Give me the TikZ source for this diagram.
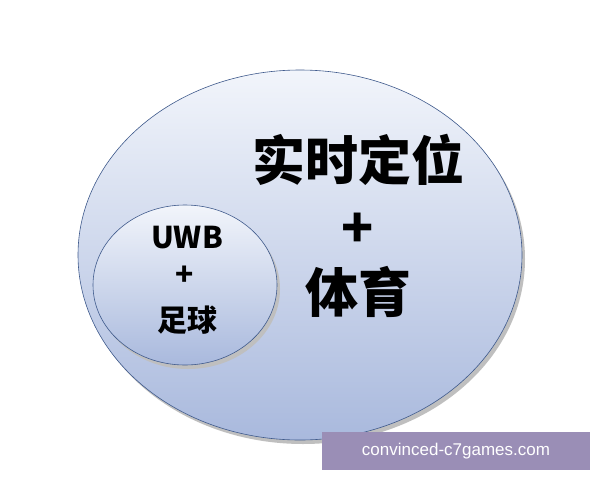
\documentclass[tikz,border=0pt]{standalone}
\usepackage{fontspec}
\newfontfamily\cjk{Noto Sans CJK SC}
\newfontfamily\wmfont{Liberation Sans}
\usetikzlibrary{shadows}
\definecolor{rimblue}{HTML}{3F5A8C}
\definecolor{topblue}{HTML}{F2F5FB}
\definecolor{botblue}{HTML}{A9B9DD}
\definecolor{wmpurple}{HTML}{9A8EB6}
\tikzset{
  zone/.style={draw=rimblue, line width=0.6pt, top color=topblue, bottom color=botblue},
  bigtext/.style={font=\cjk\fontsize{53}{58}\selectfont\bfseries},
  smalltext/.style={font=\cjk\fontsize{30}{34}\selectfont\bfseries}
}
\begin{document}
\begin{tikzpicture}[x=1pt,y=-1pt]
    \useasboundingbox (0,0) rectangle (600,480);
    \fill[white] (0,0) rectangle (600,480);
    % outer zone
    \fill[black!25] (303,259) ellipse[x radius=222, y radius=185];
    \path[zone] (300,255) ellipse[x radius=222, y radius=185];
    % inner zone
    \fill[black!25] (188,289) ellipse[x radius=92, y radius=80];
    \path[zone] (185,285) ellipse[x radius=92, y radius=80];
    \node[bigtext] (rt) at (358,160) {实时定位};
    \node[bigtext] (plusA) at (358,230) {+};
    \node[bigtext] (ty) at (358,292) {体育};
    \node[smalltext] (uwb) at (187,238) {UWB};
    \node[smalltext] (plusB) at (185,276) {+};
    \node[smalltext] (zq) at (187,320) {足球};
    % watermark
    \fill[wmpurple] (322,432) rectangle (590,470);
    \node[font=\wmfont\fontsize{17}{19}\selectfont, text=white] (wm) at (456,451) {convinced-c7games.com};
\end{tikzpicture}
\end{document}
